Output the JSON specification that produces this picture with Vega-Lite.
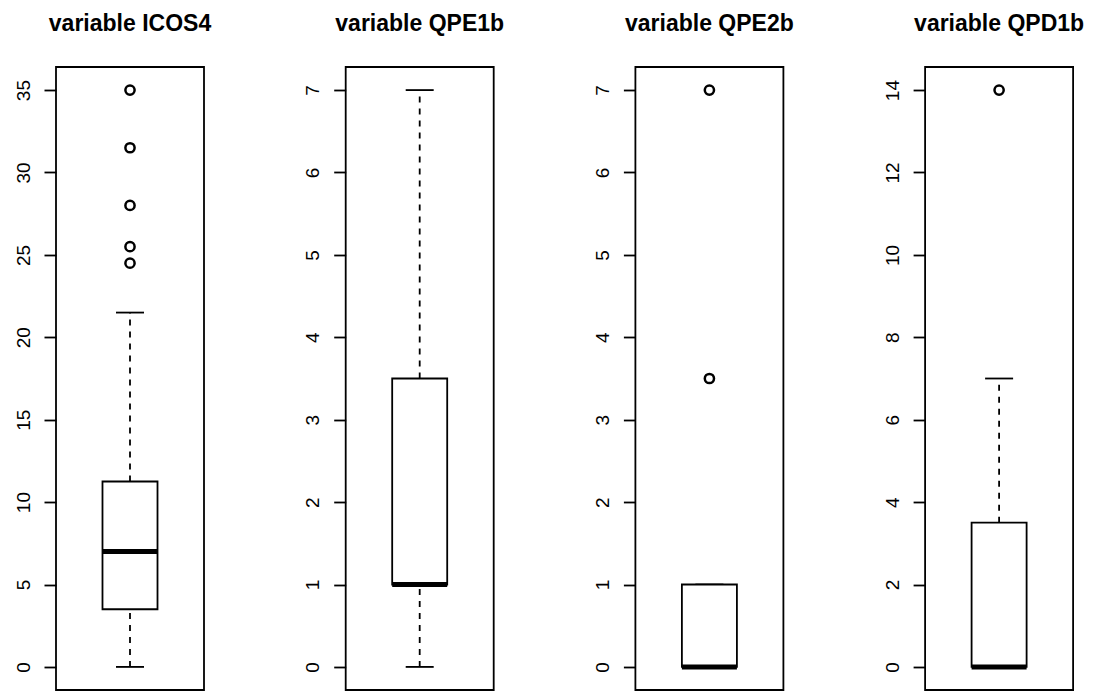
{
  "$schema": "https://vega.github.io/schema/vega-lite/v6.json",
  "autosize": {"type": "pad"},
  "padding": {"left": 13, "top": 12, "right": 0, "bottom": 0},
  "background": "white",
  "datasets": {
    "stats": [
      {"variable": "ICOS4", "lo": 0, "q1": 3.5, "med": 7, "q3": 11.25, "hi": 21.5},
      {"variable": "QPE1b", "lo": 0, "q1": 1, "med": 1, "q3": 3.5, "hi": 7},
      {"variable": "QPE2b", "lo": 0, "q1": 0, "med": 0, "q3": 1, "hi": 1},
      {"variable": "QPD1b", "lo": 0, "q1": 0, "med": 0, "q3": 3.5, "hi": 7}
    ],
    "outliers": [
      {"variable": "ICOS4", "value": 35},
      {"variable": "ICOS4", "value": 31.5},
      {"variable": "ICOS4", "value": 28},
      {"variable": "ICOS4", "value": 25.5},
      {"variable": "ICOS4", "value": 24.5},
      {"variable": "QPE2b", "value": 7},
      {"variable": "QPE2b", "value": 3.5},
      {"variable": "QPD1b", "value": 14}
    ]
  },
  "config": {
    "font": "Liberation Sans",
    "view": {"stroke": "black", "strokeWidth": 1.8},
    "axis": {"grid": false, "domain": false, "title": null},
    "axisY": {
      "tickColor": "black", "tickSize": 12, "tickWidth": 1.8,
      "labelAngle": -90, "labelFontSize": 19, "labelColor": "black",
      "labelPadding": 11, "labelFont": "Liberation Sans", "format": "d"
    },
    "tick": {"opacity": 1},
    "title": {"fontSize": 23, "fontWeight": "bold", "color": "black", "anchor": "middle", "offset": 31, "font": "Liberation Sans"}
  },
  "hconcat": [
    {
      "width": 148, "height": 623,
      "title": "variable ICOS4",
      "layer": [
        {"data": {"name": "stats"}, "transform": [{"filter": "datum.variable === 'ICOS4'"}], "mark": {"type": "rule", "strokeDash": [6, 6], "strokeWidth": 1.8, "color": "black"},
         "encoding": {"x": {"field": "variable", "type": "nominal", "axis": null, "scale": {"paddingInner": 0, "paddingOuter": 0.845}}, "y": {"field": "lo", "type": "quantitative", "scale": {"domain": [-1.4, 36.4], "nice": false, "zero": false}, "axis": {"values": [0, 5, 10, 15, 20, 25, 30, 35]}}, "y2": {"field": "q1"}}},
        {"data": {"name": "stats"}, "transform": [{"filter": "datum.variable === 'ICOS4'"}], "mark": {"type": "rule", "strokeDash": [6, 6], "strokeWidth": 1.8, "color": "black"},
         "encoding": {"x": {"field": "variable", "type": "nominal"}, "y": {"field": "q3", "type": "quantitative"}, "y2": {"field": "hi"}}},
        {"data": {"name": "stats"}, "transform": [{"filter": "datum.variable === 'ICOS4'"}], "mark": {"type": "tick", "size": 28, "thickness": 1.8, "color": "black", "opacity": 1},
         "encoding": {"x": {"field": "variable", "type": "nominal"}, "y": {"field": "lo", "type": "quantitative"}}},
        {"data": {"name": "stats"}, "transform": [{"filter": "datum.variable === 'ICOS4'"}], "mark": {"type": "tick", "size": 28, "thickness": 1.8, "color": "black", "opacity": 1},
         "encoding": {"x": {"field": "variable", "type": "nominal"}, "y": {"field": "hi", "type": "quantitative"}}},
        {"data": {"name": "stats"}, "transform": [{"filter": "datum.variable === 'ICOS4'"}], "mark": {"type": "bar", "fill": "white", "stroke": "black", "strokeWidth": 1.8, "opacity": 1},
         "encoding": {"x": {"field": "variable", "type": "nominal"}, "y": {"field": "q1", "type": "quantitative"}, "y2": {"field": "q3"}}},
        {"data": {"name": "stats"}, "transform": [{"filter": "datum.variable === 'ICOS4'"}], "mark": {"type": "tick", "size": 55, "thickness": 5, "color": "black", "opacity": 1},
         "encoding": {"x": {"field": "variable", "type": "nominal"}, "y": {"field": "med", "type": "quantitative"}}},
        {"data": {"name": "outliers"}, "transform": [{"filter": "datum.variable === 'ICOS4'"}], "mark": {"type": "point", "shape": "circle", "filled": false, "size": 85, "strokeWidth": 2.5, "color": "black", "opacity": 1},
         "encoding": {"x": {"field": "variable", "type": "nominal"}, "y": {"field": "value", "type": "quantitative"}}}
      ]
    },
    {
      "width": 148, "height": 623,
      "title": "variable QPE1b",
      "layer": [
        {"data": {"name": "stats"}, "transform": [{"filter": "datum.variable === 'QPE1b'"}], "mark": {"type": "rule", "strokeDash": [6, 6], "strokeWidth": 1.8, "color": "black"},
         "encoding": {"x": {"field": "variable", "type": "nominal", "axis": null, "scale": {"paddingInner": 0, "paddingOuter": 0.845}}, "y": {"field": "lo", "type": "quantitative", "scale": {"domain": [-0.28, 7.28], "nice": false, "zero": false}, "axis": {"values": [0, 1, 2, 3, 4, 5, 6, 7]}}, "y2": {"field": "q1"}}},
        {"data": {"name": "stats"}, "transform": [{"filter": "datum.variable === 'QPE1b'"}], "mark": {"type": "rule", "strokeDash": [6, 6], "strokeWidth": 1.8, "color": "black"},
         "encoding": {"x": {"field": "variable", "type": "nominal"}, "y": {"field": "q3", "type": "quantitative"}, "y2": {"field": "hi"}}},
        {"data": {"name": "stats"}, "transform": [{"filter": "datum.variable === 'QPE1b'"}], "mark": {"type": "tick", "size": 28, "thickness": 1.8, "color": "black", "opacity": 1},
         "encoding": {"x": {"field": "variable", "type": "nominal"}, "y": {"field": "lo", "type": "quantitative"}}},
        {"data": {"name": "stats"}, "transform": [{"filter": "datum.variable === 'QPE1b'"}], "mark": {"type": "tick", "size": 28, "thickness": 1.8, "color": "black", "opacity": 1},
         "encoding": {"x": {"field": "variable", "type": "nominal"}, "y": {"field": "hi", "type": "quantitative"}}},
        {"data": {"name": "stats"}, "transform": [{"filter": "datum.variable === 'QPE1b'"}], "mark": {"type": "bar", "fill": "white", "stroke": "black", "strokeWidth": 1.8, "opacity": 1},
         "encoding": {"x": {"field": "variable", "type": "nominal"}, "y": {"field": "q1", "type": "quantitative"}, "y2": {"field": "q3"}}},
        {"data": {"name": "stats"}, "transform": [{"filter": "datum.variable === 'QPE1b'"}], "mark": {"type": "tick", "size": 55, "thickness": 5, "color": "black", "opacity": 1},
         "encoding": {"x": {"field": "variable", "type": "nominal"}, "y": {"field": "med", "type": "quantitative"}}}
      ]
    },
    {
      "width": 148, "height": 623,
      "title": "variable QPE2b",
      "layer": [
        {"data": {"name": "stats"}, "transform": [{"filter": "datum.variable === 'QPE2b'"}], "mark": {"type": "rule", "strokeDash": [6, 6], "strokeWidth": 1.8, "color": "black"},
         "encoding": {"x": {"field": "variable", "type": "nominal", "axis": null, "scale": {"paddingInner": 0, "paddingOuter": 0.845}}, "y": {"field": "q3", "type": "quantitative", "scale": {"domain": [-0.28, 7.28], "nice": false, "zero": false}, "axis": {"values": [0, 1, 2, 3, 4, 5, 6, 7]}}, "y2": {"field": "hi"}}},
        {"data": {"name": "stats"}, "transform": [{"filter": "datum.variable === 'QPE2b'"}], "mark": {"type": "tick", "size": 28, "thickness": 1.8, "color": "black", "opacity": 1},
         "encoding": {"x": {"field": "variable", "type": "nominal"}, "y": {"field": "lo", "type": "quantitative"}}},
        {"data": {"name": "stats"}, "transform": [{"filter": "datum.variable === 'QPE2b'"}], "mark": {"type": "tick", "size": 28, "thickness": 1.8, "color": "black", "opacity": 1},
         "encoding": {"x": {"field": "variable", "type": "nominal"}, "y": {"field": "hi", "type": "quantitative"}}},
        {"data": {"name": "stats"}, "transform": [{"filter": "datum.variable === 'QPE2b'"}], "mark": {"type": "bar", "fill": "white", "stroke": "black", "strokeWidth": 1.8, "opacity": 1},
         "encoding": {"x": {"field": "variable", "type": "nominal"}, "y": {"field": "q1", "type": "quantitative"}, "y2": {"field": "q3"}}},
        {"data": {"name": "stats"}, "transform": [{"filter": "datum.variable === 'QPE2b'"}], "mark": {"type": "tick", "size": 55, "thickness": 5, "color": "black", "opacity": 1},
         "encoding": {"x": {"field": "variable", "type": "nominal"}, "y": {"field": "med", "type": "quantitative"}}},
        {"data": {"name": "outliers"}, "transform": [{"filter": "datum.variable === 'QPE2b'"}], "mark": {"type": "point", "shape": "circle", "filled": false, "size": 85, "strokeWidth": 2.5, "color": "black", "opacity": 1},
         "encoding": {"x": {"field": "variable", "type": "nominal"}, "y": {"field": "value", "type": "quantitative"}}}
      ]
    },
    {
      "width": 148, "height": 623,
      "title": "variable QPD1b",
      "layer": [
        {"data": {"name": "stats"}, "transform": [{"filter": "datum.variable === 'QPD1b'"}], "mark": {"type": "rule", "strokeDash": [6, 6], "strokeWidth": 1.8, "color": "black"},
         "encoding": {"x": {"field": "variable", "type": "nominal", "axis": null, "scale": {"paddingInner": 0, "paddingOuter": 0.845}}, "y": {"field": "q3", "type": "quantitative", "scale": {"domain": [-0.56, 14.56], "nice": false, "zero": false}, "axis": {"values": [0, 2, 4, 6, 8, 10, 12, 14]}}, "y2": {"field": "hi"}}},
        {"data": {"name": "stats"}, "transform": [{"filter": "datum.variable === 'QPD1b'"}], "mark": {"type": "tick", "size": 28, "thickness": 1.8, "color": "black", "opacity": 1},
         "encoding": {"x": {"field": "variable", "type": "nominal"}, "y": {"field": "hi", "type": "quantitative"}}},
        {"data": {"name": "stats"}, "transform": [{"filter": "datum.variable === 'QPD1b'"}], "mark": {"type": "bar", "fill": "white", "stroke": "black", "strokeWidth": 1.8, "opacity": 1},
         "encoding": {"x": {"field": "variable", "type": "nominal"}, "y": {"field": "q1", "type": "quantitative"}, "y2": {"field": "q3"}}},
        {"data": {"name": "stats"}, "transform": [{"filter": "datum.variable === 'QPD1b'"}], "mark": {"type": "tick", "size": 55, "thickness": 5, "color": "black", "opacity": 1},
         "encoding": {"x": {"field": "variable", "type": "nominal"}, "y": {"field": "med", "type": "quantitative"}}},
        {"data": {"name": "outliers"}, "transform": [{"filter": "datum.variable === 'QPD1b'"}], "mark": {"type": "point", "shape": "circle", "filled": false, "size": 85, "strokeWidth": 2.5, "color": "black", "opacity": 1},
         "encoding": {"x": {"field": "variable", "type": "nominal"}, "y": {"field": "value", "type": "quantitative"}}}
      ]
    }
  ],
  "spacing": 141.7,
  "bounds": "flush"
}
